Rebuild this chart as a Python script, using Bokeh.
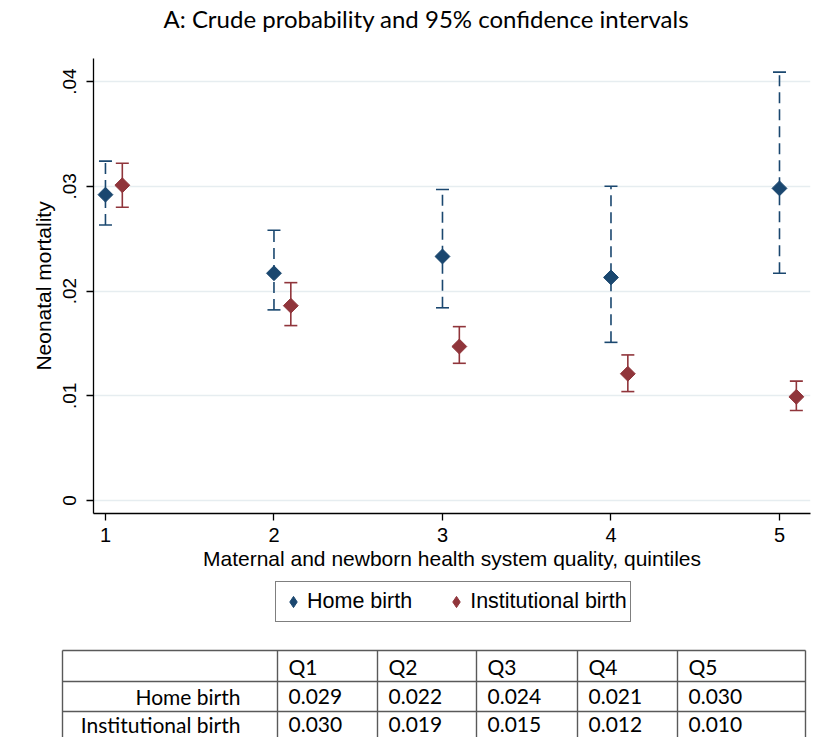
import math
from bokeh.plotting import figure
from bokeh.models import (Range1d, FixedTicker, Whisker, TeeHead, ColumnDataSource,
                          Legend, LegendItem)
from bokeh.layouts import column
from bokeh.embed import file_html
from bokeh.resources import INLINE
from bokeh.core.properties import value

# ---------------- data ----------------
quintiles = [1, 2, 3, 4, 5]
home_p = [0.0292, 0.0217, 0.0233, 0.0213, 0.0298]
home_lo = [0.0263, 0.0182, 0.0184, 0.0151, 0.0217]
home_hi = [0.0324, 0.0258, 0.0297, 0.0300, 0.0409]
inst_p = [0.0301, 0.0186, 0.0147, 0.0121, 0.0099]
inst_lo = [0.0280, 0.0167, 0.0131, 0.0104, 0.0086]
inst_hi = [0.0322, 0.0208, 0.0166, 0.0139, 0.0114]

ytick_vals = [0, 0.01, 0.02, 0.03, 0.04]
ytick_labels = ["0", ".01", ".02", ".03", ".04"]

title_text = "A: Crude probability and 95% confidence intervals"
series_names = ["Home birth", "Institutional birth"]
table_header = ["Q1", "Q2", "Q3", "Q4", "Q5"]
table_home = ["0.029", "0.022", "0.024", "0.021", "0.030"]
table_inst = ["0.030", "0.019", "0.015", "0.012", "0.010"]

# ---------------- style ----------------
BLUE = "#1a476f"
RED = "#90353b"
GRID = "#e6edf0"
AX_FONT = "Liberation Sans"
TB_FONT = "Lato"
DODGE = 0.1
ROT = math.pi / 4

W = 819
TTH = 36   # title strip
CH = 544   # chart
LH = 60    # legend strip
TH = 97    # table


def strip(h):
    f = figure(width=W, height=h, output_backend="svg", toolbar_location=None,
               x_range=Range1d(0, W), y_range=Range1d(h, 0), min_border=0)
    f.frame_align = False
    f.axis.visible = False
    f.grid.visible = False
    f.outline_line_color = None
    return f


# ---------------- title strip ----------------
tt = strip(TTH)
tt.text(x=[163], y=[18], text=[title_text], text_font=value(TB_FONT),
        text_font_size="24px", text_baseline="middle", text_align="left",
        text_color="black")

# ---------------- chart ----------------
p = figure(width=W, height=CH, output_backend="svg", toolbar_location=None,
           x_range=Range1d(0.929, 5.184), y_range=Range1d(-0.00124, 0.0422),
           min_border_left=93, min_border_right=9, min_border_top=22,
           min_border_bottom=67)
p.frame_align = False
p.outline_line_color = None
p.background_fill_color = "white"
p.border_fill_color = "white"

home_src = ColumnDataSource(dict(x=quintiles, p=home_p, lo=home_lo, hi=home_hi))
inst_src = ColumnDataSource(dict(x=[q + DODGE for q in quintiles], p=inst_p,
                                 lo=inst_lo, hi=inst_hi))

w1 = Whisker(source=home_src, base="x", upper="hi", lower="lo",
             line_color=BLUE, line_width=1.6, line_dash="11 6",
             upper_head=TeeHead(size=13, line_color=BLUE, line_width=1.6),
             lower_head=TeeHead(size=13, line_color=BLUE, line_width=1.6))
w2 = Whisker(source=inst_src, base="x", upper="hi", lower="lo",
             line_color=RED, line_width=1.6,
             upper_head=TeeHead(size=13, line_color=RED, line_width=1.6),
             lower_head=TeeHead(size=13, line_color=RED, line_width=1.6))
p.add_layout(w1)
p.add_layout(w2)

p.scatter("x", "p", source=home_src, marker="square", angle=ROT, size=10.5,
          fill_color=BLUE, line_color=BLUE)
p.scatter("x", "p", source=inst_src, marker="square", angle=ROT, size=10.5,
          fill_color=RED, line_color=RED)

# axes
p.xaxis.ticker = FixedTicker(ticks=quintiles)
p.xaxis.axis_label = "Maternal and newborn health system quality, quintiles"
p.yaxis.ticker = FixedTicker(ticks=ytick_vals)
p.yaxis.major_label_overrides = {v: l for v, l in zip(ytick_vals, ytick_labels)}
p.yaxis.major_label_orientation = "vertical"
p.yaxis.axis_label = "Neonatal mortality"
for ax in (p.xaxis, p.yaxis):
    ax.axis_line_color = "black"
    ax.axis_line_width = 1.3
    ax.major_tick_line_color = "black"
    ax.major_tick_line_width = 1.3
    ax.major_tick_out = 7
    ax.major_tick_in = 0
    ax.minor_tick_line_color = None
    ax.major_label_text_font = AX_FONT
    ax.major_label_text_color = "black"
    ax.axis_label_text_font = AX_FONT
    ax.axis_label_text_font_size = "21px"
    ax.axis_label_text_font_style = "normal"
    ax.axis_label_text_color = "black"
p.xaxis.major_label_text_font_size = "20px"
p.yaxis.major_label_text_font_size = "19px"
p.xaxis.major_label_standoff = 7
p.xaxis.axis_label_standoff = 2
p.yaxis.major_label_standoff = 10
p.yaxis.axis_label_standoff = 6

p.xgrid.visible = False
p.ygrid.grid_line_color = GRID
p.ygrid.grid_line_width = 1.5

# ---------------- legend strip ----------------
lf = strip(LH)
nan = float("nan")
lr1 = lf.scatter(x=[nan], y=[nan], marker="diamond", size=12,
                 fill_color=BLUE, line_color=BLUE)
lr2 = lf.scatter(x=[nan], y=[nan], marker="diamond", size=12,
                 fill_color=RED, line_color=RED)
legend = Legend(items=[LegendItem(label=series_names[0], renderers=[lr1]),
                       LegendItem(label=series_names[1], renderers=[lr2])],
                orientation="horizontal", location=(275, 18),
                border_line_color="black", border_line_width=1,
                background_fill_color="white", background_fill_alpha=1,
                label_text_font=AX_FONT, label_text_font_size="21.5px",
                label_text_color="black", spacing=30, padding=3, margin=0,
                glyph_width=28, glyph_height=33, label_height=33, label_standoff=-8)
lf.add_layout(legend, "center")

# ---------------- table ----------------
t = strip(TH)
col_x = [62, 277, 377, 476, 577, 677, 805]
row_y = [10, 41, 71, 102]
LC = "#595959"
t.segment(x0=[col_x[0]] * len(row_y), x1=[col_x[-1]] * len(row_y), y0=row_y, y1=row_y,
          line_color=LC, line_width=1.4)
t.segment(x0=col_x, x1=col_x, y0=[row_y[0]] * len(col_x), y1=[row_y[-1]] * len(col_x),
          line_color=LC, line_width=1.4)

row_mid = [(row_y[i] + row_y[i + 1]) / 2 for i in range(3)]
row_mid[2] = row_y[2] + 13
tx = [c + 11 for c in col_x[1:6]]
FS = "21px"
t.text(x=tx, y=[row_mid[0]] * 5, text=table_header, text_font=value(TB_FONT),
       text_font_size=FS, text_baseline="middle", text_align="left", text_color="black")
t.text(x=tx, y=[row_mid[1]] * 5, text=table_home, text_font=value(TB_FONT),
       text_font_size=FS, text_baseline="middle", text_align="left", text_color="black")
t.text(x=tx, y=[row_mid[2]] * 5, text=table_inst, text_font=value(TB_FONT),
       text_font_size=FS, text_baseline="middle", text_align="left", text_color="black")
t.text(x=[240, 240], y=row_mid[1:3], text=series_names, text_font=value(TB_FONT),
       text_font_size=FS, text_baseline="middle", text_align="right", text_color="black")

layout = column(tt, p, lf, t, spacing=0)
open("out.html", "w").write(file_html(layout, INLINE))
